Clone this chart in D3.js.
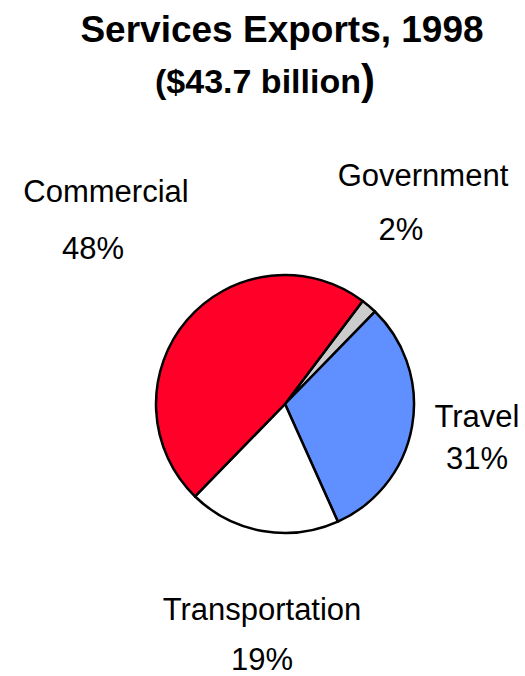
<!DOCTYPE html>
<html>
<head>
<meta charset="utf-8">
<script src="https://cdn.jsdelivr.net/npm/d3@7"></script>
<style>
  html, body { margin: 0; padding: 0; background: #fff; }
  svg { display: block; }
  text { font-family: "Liberation Sans", Arial, sans-serif; fill: #000; }
</style>
</head>
<body>
<svg id="chart" width="525" height="676"></svg>
<script>
// Services exports by category, 1998 (percent of total)
const categories = ["Government", "Travel", "Transportation", "Commercial"];
const shares = [2, 31, 19, 48];
const colors = ["#cccccc", "#6090ff", "#ffffff", "#ff0029"];

const svg = d3.select("#chart");

// Title
svg.append("text")
  .attr("x", 282).attr("y", 42)
  .attr("text-anchor", "middle")
  .style("font-size", "37px").style("font-weight", "bold")
  .text("Services Exports, 1998");

const sub = svg.append("text")
  .attr("x", 265).attr("y", 93)
  .attr("text-anchor", "middle")
  .style("font-size", "34px").style("font-weight", "bold");
sub.append("tspan").text("($43.7 billion");
sub.append("tspan").style("font-size", "42px").attr("dy", 1).text(")");

// Pie, drawn clockwise starting with the Government slice
const cx = 285, cy = 404, r = 129;
const start = 37 * Math.PI / 180;
const pie = d3.pie()
  .sort(null)
  .value(d => d)
  .startAngle(start)
  .endAngle(start + 2 * Math.PI);
const arc = d3.arc().innerRadius(0).outerRadius(r);
const color = d3.scaleOrdinal().domain(categories).range(colors);

const g = svg.append("g").attr("transform", `translate(${cx},${cy})`);
g.selectAll("path")
  .data(pie(shares))
  .join("path")
  .attr("d", arc)
  .attr("fill", (d, i) => color(categories[i]))
  .attr("stroke", "#000")
  .attr("stroke-width", 2.5)
  .attr("stroke-linejoin", "round");

// Category labels with percentages
const labelPos = {
  "Government":     { x: 423, y: 186, px: 401, py: 240 },
  "Travel":         { x: 477, y: 427, px: 477, py: 469 },
  "Transportation": { x: 262, y: 620, px: 262, py: 670 },
  "Commercial":     { x: 106, y: 202, px: 93,  py: 259 }
};

categories.forEach((c, i) => {
  const p = labelPos[c];
  svg.append("text")
    .attr("x", p.x).attr("y", p.y)
    .attr("text-anchor", "middle")
    .style("font-size", "31px")
    .text(c);
  svg.append("text")
    .attr("x", p.px).attr("y", p.py)
    .attr("text-anchor", "middle")
    .style("font-size", "31px")
    .text(shares[i] + "%");
});
</script>
</body>
</html>
